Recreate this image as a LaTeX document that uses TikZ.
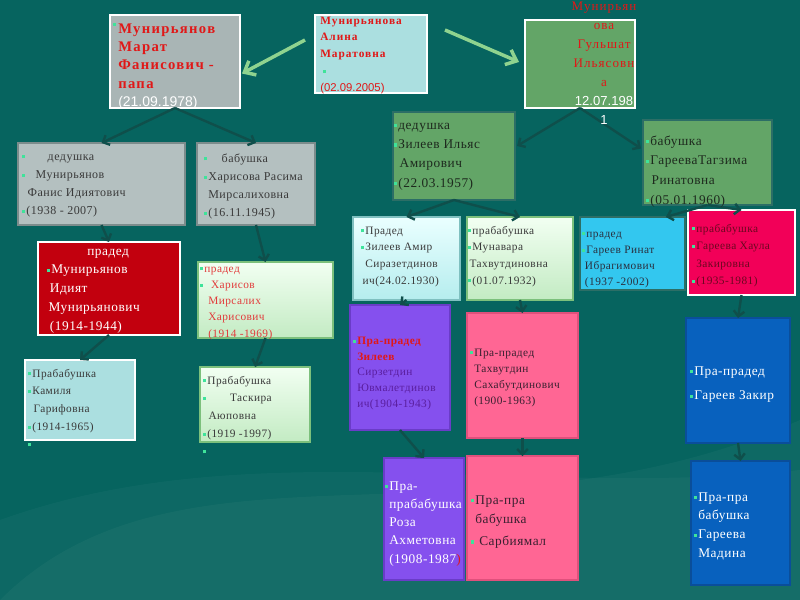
\documentclass[tikz,border=0pt]{standalone}
\usepackage{fontspec}
\setmainfont{Liberation Serif}[LetterSpace=4]
\newfontfamily\sansf{Liberation Sans}
\usetikzlibrary{arrows.meta}

\definecolor{bgc}{HTML}{06645F}
\definecolor{conc}{HTML}{0F4F4B}
\definecolor{bulc}{HTML}{3FE39A}
\definecolor{redt}{HTML}{E01818}
\definecolor{darkt}{HTML}{3A3A3A}
\definecolor{grayf}{HTML}{A9B5B5}
\definecolor{gray2}{HTML}{B4C0C0}
\definecolor{grayd}{HTML}{7C8C8C}
\definecolor{cyanf}{HTML}{ABDFE0}
\definecolor{greenf}{HTML}{63A567}
\definecolor{greenb}{HTML}{2C6E66}
\definecolor{redf}{HTML}{C2000E}
\definecolor{lgtop}{HTML}{F2FFF2}
\definecolor{lgbot}{HTML}{C3EBC3}
\definecolor{lgd}{HTML}{7CC07C}
\definecolor{lctop}{HTML}{EAFFFF}
\definecolor{lcbot}{HTML}{B5EDEE}
\definecolor{lcd}{HTML}{7FC0C0}
\definecolor{skyf}{HTML}{33C7EF}
\definecolor{pinkf}{HTML}{F20058}
\definecolor{purf}{HTML}{8550EE}
\definecolor{purd}{HTML}{6A3CC8}
\definecolor{rosef}{HTML}{FF6694}
\definecolor{rosed}{HTML}{E0507C}
\definecolor{bluef}{HTML}{0861BE}
\definecolor{blued}{HTML}{0A4E9A}
\definecolor{arrg}{HTML}{8FD38F}
\definecolor{harit}{HTML}{E23B3B}
\definecolor{zilt}{HTML}{1E2A1E}
\definecolor{skyt}{HTML}{2A3040}
\definecolor{pinkt}{HTML}{6B0820}
\definecolor{roset}{HTML}{3A2030}
\definecolor{purtc}{HTML}{5A1E9E}

\newcommand\bl{\textcolor{bulc}{\rule[0.3ex]{2.3pt}{2.3pt}}\hspace{0.8pt}}
\newcommand\famnode[6]{%
  \node[famb,#6,minimum width=#4*0.75pt,minimum height=#5*0.75pt] (#1) at (#2,#3) {};}
\newcommand\famtext[5]{%
  \node[famt,#4] (#1) at (#2,#3) {\parbox[t]{220pt}{\raggedright #5}};}

\tikzset{
  famb/.style={anchor=north west,inner sep=0pt,outer sep=0pt},
  famt/.style={anchor=base west,inner sep=0pt},
  conn/.style={draw=conc,line width=1.8pt,-{Straight Barb[length=4pt,width=8pt]}},
  garr/.style={draw=arrg,line width=2.6pt,-{Straight Barb[length=7pt,width=12pt]}},
  whitebox/.style={draw=white,line width=2.2pt},
  fsmall/.style={font=\fontsize{8.5}{12.5}\selectfont},
  fmid/.style={font=\fontsize{9}{13.7}\selectfont},
}

\begin{document}
\begin{tikzpicture}[x=0.75pt,y=-0.75pt]
\fill[bgc] (0,0) rectangle (800,600);
\fill[white,opacity=0.035] (0,600) .. controls (180,420) and (480,560) .. (800,420) -- (800,600) -- cycle;
\fill[white,opacity=0.03] (0,520) .. controls (250,430) and (520,500) .. (800,470) -- (800,600) -- (0,600) -- cycle;
\path[use as bounding box] (0,0) rectangle (800,600);

% boxes
\famnode{marat}{110}{15}{130}{93}{whitebox,fill=grayf}
\famnode{alina}{315}{15}{112}{78}{whitebox,fill=cyanf}
\famnode{gul}{525}{20}{110}{88}{whitebox,fill=greenf}
\famnode{dedm}{18}{143}{167}{82}{draw=grayd,line width=1.6pt,fill=gray2}
\famnode{babh}{197}{143}{118}{82}{draw=grayd,line width=1.6pt,fill=gray2}
\famnode{zil}{393}{112}{122}{88}{draw=greenb,line width=1.6pt,fill=greenf}
\famnode{gar}{643}{120}{129}{85}{draw=greenb,line width=1.6pt,fill=greenf}
\famnode{pradm}{38}{242}{142}{93}{draw=white,line width=1.5pt,fill=redf}
\famnode{harisov}{198}{262}{135}{76}{draw=lgd,line width=1pt,top color=lgtop,bottom color=lgbot}
\famnode{kam}{25}{360}{110}{80}{whitebox,fill=cyanf}
\famnode{task}{200}{367}{110}{75}{draw=lgd,line width=1pt,top color=lgtop,bottom color=lgbot}
\famnode{przil}{353}{217}{107}{83}{draw=lcd,line width=1pt,top color=lctop,bottom color=lcbot}
\famnode{munav}{467}{217}{106}{83}{draw=lgd,line width=1pt,top color=lgtop,bottom color=lgbot}
\famnode{gareev}{580}{217}{105}{73}{draw=greenb,line width=1.5pt,fill=skyf}
\famnode{gareeva}{688}{210}{107}{85}{draw=white,line width=1.5pt,fill=pinkf}
\famnode{purt}{350}{305}{100}{125}{draw=purd,line width=1pt,fill=purf}
\famnode{roset}{467}{313}{111}{125}{draw=rosed,line width=1pt,fill=rosef}
\famnode{bluet}{686}{318}{104}{125}{draw=blued,line width=1pt,fill=bluef}
\famnode{purb}{384}{458}{80}{122}{draw=purd,line width=1pt,fill=purf}
\famnode{roseb}{467}{456}{111}{124}{draw=rosed,line width=1pt,fill=rosef}
\famnode{blueb}{691}{461}{99}{124}{draw=blued,line width=1pt,fill=bluef}

% connectors
\draw[garr] ([shift={(-10,25)}]alina.north west) -- ([shift={(2,12)}]marat.east);
\draw[garr] ([shift={(18,15)}]alina.north east) -- ([shift={(-6,-2)}]gul.west);
\draw[conn] (marat.south) -- (dedm.north);
\draw[conn] (marat.south) -- (babh.north);
\draw[conn] (gul.south) -- ([shift={(2,-10)}]zil.east);
\draw[conn] (gul.south) -- ([shift={(-2,-14)}]gar.west);
\draw[conn] (dedm.south) -- (pradm.north);
\draw[conn] (babh.south) -- (harisov.north);
\draw[conn] (pradm.south) -- (kam.north);
\draw[conn] (harisov.south) -- (task.north);
\draw[conn] (zil.south) -- (przil.north);
\draw[conn] (zil.south) -- (munav.north);
\draw[conn] (gar.south) -- ([xshift=25]gareev.north);
\draw[conn] (gar.south) -- (gareeva.north);
\draw[conn] (przil.south) -- (purt.north);
\draw[conn] (purt.south) -- (purb.north);
\draw[conn] (munav.south) -- (roset.north);
\draw[conn] (roset.south) -- (roseb.north);
\draw[conn] (gareeva.south) -- (bluet.north);
\draw[conn] (bluet.south) -- (blueb.north);

% texts
\famtext{maratt}{118}{33}{font=\fontsize{11}{13.8}\selectfont\bfseries\addfontfeatures{LetterSpace=9},text=redt}{%
\leavevmode\llap{\raisebox{4pt}{\bl}\hspace{1pt}}Мунирьянов\\Марат\\Фанисович -\\папа\\{\sansf\mdseries\color{white}\fontsize{10.5}{12}\selectfont(21.09.1978)}}
\famtext{alinat}{320}{24}{font=\fontsize{8.5}{12.7}\selectfont\bfseries\addfontfeatures{LetterSpace=9},text=redt}{%
Мунирьянова\\Алина\\Маратовна\\\hspace*{2pt}\bl\\{\sansf\mdseries(02.09.2005)}}
\node[anchor=base,inner sep=0pt,font=\fontsize{9.8}{14.3}\selectfont\addfontfeatures{LetterSpace=8},text=redt] (gult) at (604,10)
 {\parbox[t]{120pt}{\centering Мунирьян\\ова\\Гульшат\\Ильясовн\\а\\{\sansf\color{white}12.07.198}\\{\sansf\color{white}1}}};
\famtext{dedmt}{22}{160}{fmid,text=darkt}{%
\bl\hspace{16pt}дедушка\\\bl\hspace{7pt}Мунирьянов\\\hspace*{4pt}Фанис Идиятович\\\bl(1938 - 2007)}
\famtext{babht}{204}{162}{fmid,text=darkt}{%
\bl\hspace{10pt}бабушка\\\bl Харисова Расима\\\hspace*{3pt}Мирсалиховна\\\bl(16.11.1945)}
\famtext{zilt}{394}{129}{font=\fontsize{10}{14.5}\selectfont,text=zilt}{%
\bl дедушка\\\bl Зилеев Ильяс\\\hspace*{4pt}Амирович\\\bl(22.03.1957)}
\famtext{gart}{646}{145}{font=\fontsize{10}{14.8}\selectfont,text=zilt}{%
\bl бабушка\\\bl ГареевaТагзима\\\hspace*{4pt}Ринатовна\\\bl(05.01.1960)}
\famtext{pradmt}{47}{255}{font=\fontsize{10}{14.2}\selectfont,text=white}{%
\hspace*{30pt}прадед\\\bl Мунирьянов\\\hspace*{2pt}Идият\\\hspace*{1pt}Мунирьянович\\\hspace*{2pt}(1914-1944)}
\famtext{harisovt}{200}{272}{font=\fontsize{8.5}{12.2}\selectfont,text=harit}{%
\bl прадед\\\bl\hspace{5pt}Харисов\\\hspace*{6pt}Мирсалих\\\hspace*{6pt}Харисович\\\hspace*{6pt}(1914 -1969)}
\famtext{kamt}{28}{377}{font=\fontsize{8.5}{13.3}\selectfont,text=darkt}{%
\bl Прабабушка\\\bl Камиля\\\hspace*{4pt}Гарифовна\\\bl(1914-1965)\\\bl}
\famtext{taskt}{203}{384}{font=\fontsize{8.5}{13.3}\selectfont,text=darkt}{%
\bl Прабабушка\\\bl\hspace{17pt}Таскира\\\hspace*{4pt}Аюповна\\\bl(1919 -1997)\\\bl}
\famtext{przilt}{361}{234}{fsmall,text=darkt}{%
\bl Прадед\\\bl Зилеев Амир\\\hspace*{3pt}Сиразетдинов\\\hspace*{1pt}ич(24.02.1930)}
\famtext{munavt}{468}{234}{fsmall,text=darkt}{%
\bl прабабушка\\\bl Мунавара\\\hspace*{1pt}Тахвутдиновна\\\bl(01.07.1932)}
\famtext{gareevt}{582}{237}{font=\fontsize{8.5}{12.2}\selectfont,text=skyt}{%
\bl прадед\\\bl Гареев Ринат\\\hspace*{2pt}Ибрагимович\\\hspace*{2pt}(1937 -2002)}
\famtext{gareevat}{692}{232}{font=\fontsize{8.5}{13.2}\selectfont,text=pinkt}{%
\bl прабабушка\\\bl Гареева Хаула\\\hspace*{3pt}Закировна\\\bl(1935-1981)}
\famtext{purtt}{353}{337}{font=\fontsize{8.5}{11.8}\selectfont,text=purtc}{%
{\color{redt}\bfseries\bl Пра-прадед\\\hspace*{3pt}Зилеев}\\\hspace*{3pt}Сирзетдин\\\hspace*{3pt}Ювмалетдинов\\\hspace*{3pt}ич(1904-1943)}
\famtext{rosett}{470}{356}{font=\fontsize{8.5}{12}\selectfont,text=roset}{%
\bl Пра-прадед\\\hspace*{3pt}Тахвутдин\\\hspace*{3pt}Сахабутдинович\\\hspace*{3pt}(1900-1963)}
\famtext{bluett}{690}{375}{font=\fontsize{10}{18.7}\selectfont,text=white}{%
\bl Пра-прадед\\\bl Гареев Закир}
\famtext{purbt}{385}{490}{font=\fontsize{10}{13.7}\selectfont,text=white}{%
\bl Пра-\\\hspace*{3pt}прабабушка\\\hspace*{3pt}Роза\\\hspace*{3pt}Ахметовна\\\hspace*{3pt}(1908-1987{\color{redt})}}
\famtext{rosebt}{471}{504}{font=\fontsize{10}{14.5}\selectfont,text=roset}{%
\bl Пра-пра\\\hspace*{3pt}бабушка\\[2pt]\bl\ Сарбиямал}
\famtext{bluebt}{694}{501}{font=\fontsize{10}{14.2}\selectfont,text=white}{%
\bl Пра-пра\\\hspace*{3pt}бабушка\\\bl Гареева\\\hspace*{3pt}Мадина}
\end{tikzpicture}
\end{document}
